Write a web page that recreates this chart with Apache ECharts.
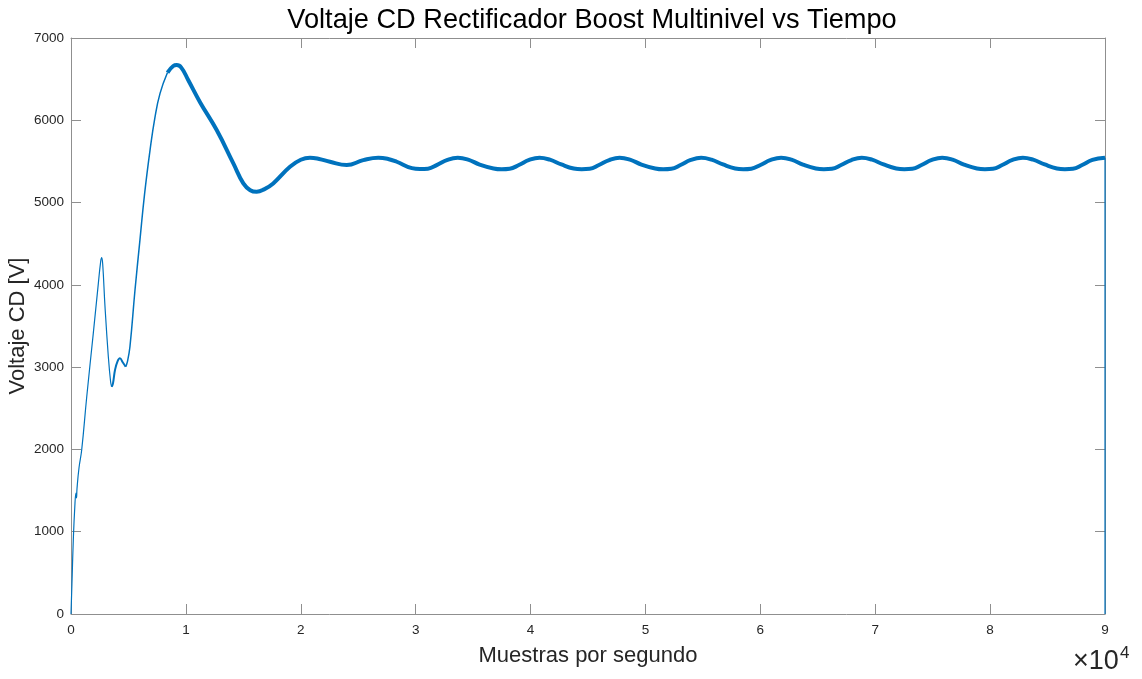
<!DOCTYPE html>
<html>
<head>
<meta charset="utf-8">
<title>Voltaje CD Rectificador Boost Multinivel vs Tiempo</title>
<script src="https://cdn.jsdelivr.net/npm/echarts@6/dist/echarts.min.js"></script>
<style>
  html, body { margin: 0; padding: 0; background: #ffffff; }
  #chart { width: 1142px; height: 679px; }
</style>
</head>
<body>
<div id="chart"></div>
<script>
// Muestras (eje x) y voltaje del bus de CD [V]
const muestras = [
  0, 100, 200, 330, 430, 480, 520, 700, 930, 1370, 1940, 2380, 2580, 2670, 2760, 2960,
  3250, 3450, 3540, 3650, 3830, 4050, 4260, 4500, 4760, 4900,
  5130, 5570, 6000, 6400, 6880, 7300, 7750,
  8400, 8900, 9200, 9600, 10200, 11230, 12680, 14130, 15000, 15600, 16160, 16800, 17600,
  19060, 20000, 20800, 21600, 22540, 24000, 25440, 26750, 27600, 28350,
  29670, 30370, 31070, 31870, 32770, 33670, 34570, 35570,
  36780, 37480, 38180, 38980, 39880, 40780, 41680, 42680,
  43750, 44450, 45150, 45950, 46850, 47750, 48650, 49650,
  50850, 51550, 52250, 53050, 53950, 54850, 55750, 56750,
  57810, 58510, 59210, 60010, 60910, 61810, 62710, 63710,
  64830, 65530, 66230, 67030, 67930, 68830, 69730, 70730,
  71830, 72530, 73230, 74030, 74930, 75830, 76730, 77730,
  78850, 79550, 80250, 81050, 81950, 82850, 83750, 84750,
  85810, 86510, 87210, 88010, 88910, 90000
];
const voltaje = [
  0, 450, 900, 1300, 1470, 1410, 1520, 1780, 1993, 2640, 3411, 4018, 4280, 4330, 4250, 3734,
  3126, 2820, 2762, 2800, 2965, 3070, 3107, 3060, 3005, 3060,
  3248, 3937, 4544, 5100, 5638, 6030, 6327,
  6580, 6660, 6671, 6640, 6490, 6220, 5881, 5476, 5233, 5150, 5131, 5160, 5233,
  5435, 5520, 5545, 5530, 5496, 5456, 5516, 5545, 5530, 5496,
  5418, 5408, 5412, 5458, 5520, 5545, 5522, 5462,
  5415, 5405, 5411, 5456, 5518, 5545, 5521, 5463,
  5414, 5405, 5410, 5457, 5517, 5545, 5522, 5462,
  5414, 5404, 5410, 5456, 5518, 5544, 5521, 5463,
  5414, 5405, 5411, 5457, 5518, 5545, 5522, 5462,
  5414, 5405, 5410, 5456, 5517, 5545, 5521, 5463,
  5414, 5405, 5410, 5457, 5518, 5545, 5522, 5462,
  5414, 5405, 5410, 5456, 5518, 5545, 5521, 5463,
  5414, 5405, 5410, 5456, 5518, 5545
];
// Fin de la simulación: el registro vuelve a cero en la última muestra
const muestraFinal = [90000, 90000];
const voltajeFinal = [5545, 0];

// Ticks
const ticksX = [0, 1, 2, 3, 4, 5, 6, 7, 8, 9];          // x 10^4
const ticksY = [0, 1000, 2000, 3000, 4000, 5000, 6000, 7000];

const escalaX = 10000;
const azul = '#0072BD';
const colorEje = '#8f8f8f';
const colorTexto = '#262626';
const fuente = '"Liberation Sans", Arial, Helvetica, sans-serif';

// Tramos de la curva según el grosor del trazo (cortes en extremos locales)
const tramos = [
  { desde: 0,     hasta: 3540,  ancho: 1.2 },
  { desde: 3540,  hasta: 4760,  ancho: 2.0 },
  { desde: 4760,  hasta: 8400,  ancho: 1.5 },
  { desde: 8400,  hasta: 90000, ancho: 4.0 }
];

const puntos = muestras.map((m, i) => [m, voltaje[i]]);

const series = tramos.map(t => ({
  type: 'line',
  data: puntos.filter(p => p[0] >= t.desde && p[0] <= t.hasta),
  showSymbol: false,
  smooth: 0.45,
  lineStyle: { color: azul, width: t.ancho, cap: 'butt', join: 'round' },
  silent: true,
  z: 3
}));
series.push({
  type: 'line',
  data: muestraFinal.map((m, i) => [m, voltajeFinal[i]]),
  showSymbol: false,
  lineStyle: { color: azul, width: 1.2 },
  silent: true,
  z: 3
});

const ejeX = (pos, etiquetas) => ({
  type: 'value',
  position: pos,
  min: ticksX[0] * escalaX,
  max: ticksX[ticksX.length - 1] * escalaX,
  interval: escalaX,
  axisLine: { show: true, onZero: false, lineStyle: { color: colorEje, width: 1 } },
  axisTick: { show: true, inside: true, length: 10, lineStyle: { color: colorEje } },
  axisLabel: {
    show: etiquetas, margin: 9, fontSize: 13.5, color: colorTexto, fontFamily: fuente,
    formatter: v => String(v / escalaX)
  },
  splitLine: { show: false }
});

const ejeY = (pos, etiquetas) => ({
  type: 'value',
  position: pos,
  min: ticksY[0],
  max: ticksY[ticksY.length - 1],
  interval: 1000,
  axisLine: { show: true, onZero: false, lineStyle: { color: colorEje, width: 1 } },
  axisTick: { show: true, inside: true, length: 10, lineStyle: { color: colorEje } },
  axisLabel: {
    show: etiquetas, margin: 7, fontSize: 13.5, color: colorTexto, fontFamily: fuente,
    formatter: v => String(v)
  },
  splitLine: { show: false }
});

const xInf = ejeX('bottom', true);
xInf.name = 'Muestras por segundo';
xInf.nameLocation = 'middle';
xInf.nameGap = 31;
xInf.nameMoveOverlap = false;
xInf.nameTextStyle = { fontSize: 22, color: colorTexto, fontFamily: fuente };

const yIzq = ejeY('left', true);
yIzq.name = 'Voltaje CD [V]';
yIzq.nameLocation = 'middle';
yIzq.nameGap = 42;
yIzq.nameMoveOverlap = false;
yIzq.nameTextStyle = { fontSize: 22, color: colorTexto, fontFamily: fuente };

const chart = echarts.init(document.getElementById('chart'), null, { renderer: 'canvas' });
chart.setOption({
  animation: false,
  backgroundColor: '#ffffff',
  title: {
    text: 'Voltaje CD Rectificador Boost Multinivel vs Tiempo',
    left: 587,
    textAlign: 'center',
    top: 2,
    textStyle: { fontSize: 27.2, fontWeight: 'normal', color: '#000000', fontFamily: fuente }
  },
  grid: { left: 71, right: 37, top: 38, bottom: 65, containLabel: false, outerBoundsMode: 'none' },
  xAxis: [xInf, ejeX('top', false)],
  yAxis: [yIzq, ejeY('right', false)],
  graphic: [
    {
      type: 'text', left: 1073, top: 648,
      style: { text: '×10', fontSize: 27, fill: colorTexto, fontFamily: fuente }
    },
    {
      type: 'text', left: 1120, top: 645,
      style: { text: '4', fontSize: 17, fill: colorTexto, fontFamily: fuente }
    }
  ],
  series: series
});
</script>
</body>
</html>
